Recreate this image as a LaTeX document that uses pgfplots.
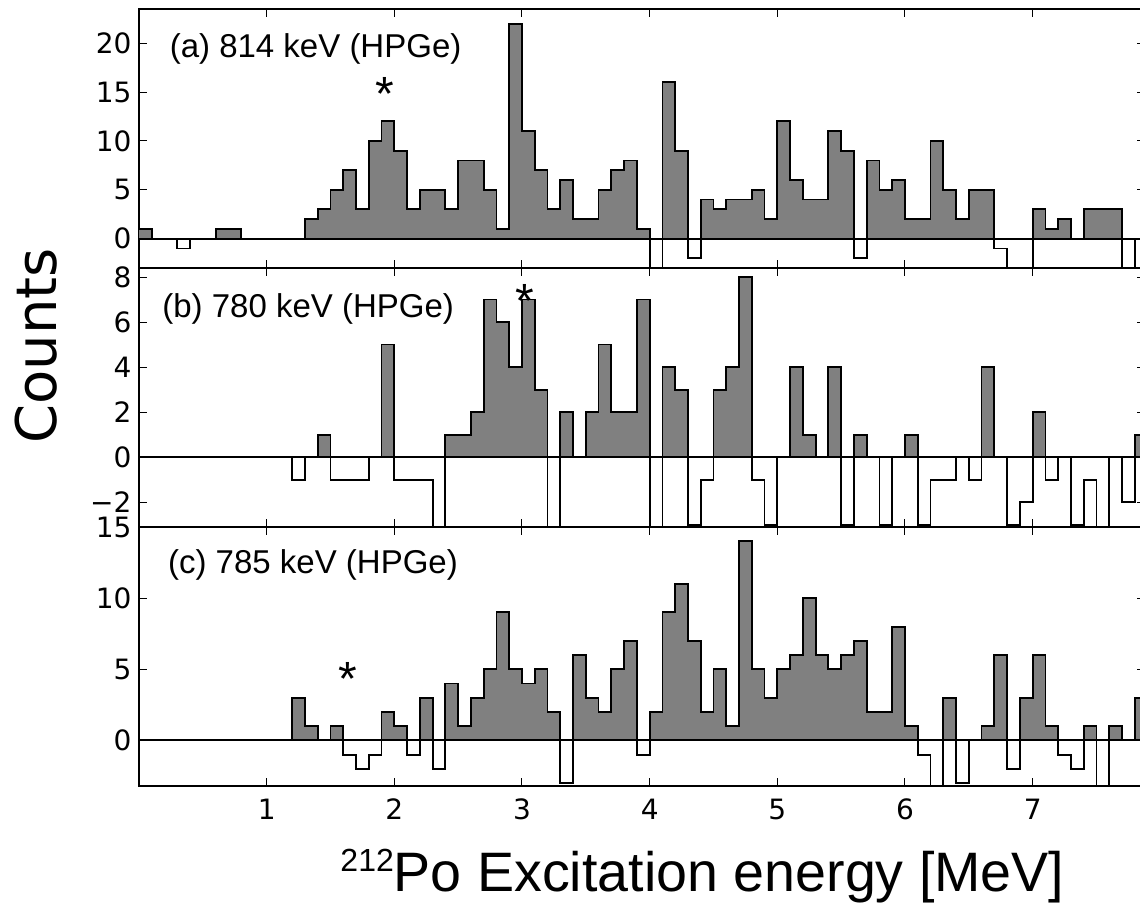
\documentclass[border=0pt]{standalone}
\usepackage{pgfplots}
\pgfplotsset{compat=1.18}
\usepackage{pgfplotstable}
\usepackage{fontspec}
\setmainfont{Liberation Sans}
\newfontfamily\dejavu{DejaVu Sans}

\pgfplotstableread{
x a b c
0.0 1 0 0
0.1 0 0 0
0.2 0 0 0
0.3 -1 0 0
0.4 0 0 0
0.5 0 0 0
0.6 1 0 0
0.7 1 0 0
0.8 0 0 0
0.9 0 0 0
1.0 0 0 0
1.1 0 0 0
1.2 0 -1 3
1.3 2 0 1
1.4 3 1 0
1.5 5 -1 1
1.6 7 -1 -1
1.7 3 -1 -2
1.8 10 0 -1
1.9 12 5 2
2.0 9 -1 1
2.1 3 -1 -1
2.2 5 -1 3
2.3 5 -4 -2
2.4 3 1 4
2.5 8 1 1
2.6 8 2 3
2.7 5 7 5
2.8 1 6 9
2.9 22 4 5
3.0 11 7 4
3.1 7 3 5
3.2 3 -4 2
3.3 6 2 -3
3.4 2 0 6
3.5 2 2 3
3.6 5 5 2
3.7 7 2 5
3.8 8 2 7
3.9 1 7 -1
4.0 -4 -4 2
4.1 16 4 9
4.2 9 3 11
4.3 -2 -3 7
4.4 4 -1 2
4.5 3 3 5
4.6 4 4 1
4.7 4 8 14
4.8 5 -1 5
4.9 2 -3 3
5.0 12 0 5
5.1 6 4 6
5.2 4 1 10
5.3 4 0 6
5.4 11 4 5
5.5 9 -3 6
5.6 -2 1 7
5.7 8 0 2
5.8 5 -3 2
5.9 6 0 8
6.0 2 1 1
6.1 2 -3 -1
6.2 10 -1 -4
6.3 5 -1 3
6.4 2 0 -3
6.5 5 -1 0
6.6 5 4 1
6.7 -1 0 6
6.8 -4 -3 -2
6.9 -4 -2 3
7.0 3 2 6
7.1 1 -1 1
7.2 2 0 -1
7.3 0 -3 -2
7.4 3 -1 1
7.5 3 -4 -4
7.6 3 0 1
7.7 -4 -2 0
7.8 0 1 3
7.9 0 1 3
}\hist

\pgfplotsset{
  panel/.style={
    scale only axis, width=503pt, height=129.5pt,
    anchor=south west,
    xmin=0, xmax=7.88,
    axis line style={line width=1pt},
    tick align=inside, tick pos=both,
    xticklabel pos=bottom, yticklabel pos=left,
    major tick length=4pt,
    every tick/.style={black, line width=0.5pt},
    xtick={1,2,3,4,5,6,7},
    tick label style={font=\dejavu\fontsize{14}{16}\selectfont},
    yticklabel style={inner sep=3.6pt},
    xticklabel style={inner sep=0pt, yshift=-6.3pt},
    /pgf/number format/assume math mode=true,
  },
}
\tikzset{
  annot/.style={anchor=base west, inner sep=0pt, font=\fontsize{16.5}{18}\selectfont},
  star/.style={anchor=north, inner sep=0pt, font=\fontsize{24}{24}\selectfont},
}

\begin{document}
\begin{tikzpicture}
\useasboundingbox (0,0) rectangle (570pt,453pt);
\clip (0,0) rectangle (570pt,453pt);

% panel (a)
\begin{axis}[panel, at={(69.5pt,319pt)}, ymin=-3, ymax=23.5, ytick={0,5,10,15,20}, xticklabels={}]
\addplot[const plot, fill=gray, draw=none] table[x=x, y expr={max(\thisrow{a},0)}] {\hist} \closedcycle;
\addplot[const plot, black, line width=0.9pt] table[x=x, y=a] {\hist};
\addplot[black, line width=1pt] coordinates {(0,0) (7.88,0)};
\node[annot] at (axis cs:0.238,18.49) {(a) 814 keV (HPGe)};
\node[star] at (axis cs:1.928,16.58) {*};
\end{axis}

% panel (b)
\begin{axis}[panel, at={(69.5pt,189.5pt)}, ymin=-3.1, ymax=8.4, ytick={-2,0,2,4,6,8}, yticklabels={−2,0,2,4,6,8}, xticklabels={}]
\addplot[const plot, fill=gray, draw=none] table[x=x, y expr={max(\thisrow{b},0)}] {\hist} \closedcycle;
\addplot[const plot, black, line width=0.9pt] table[x=x, y=b] {\hist};
\addplot[black, line width=1pt] coordinates {(0,0) (7.88,0)};
\node[annot] at (axis cs:0.18,6.2) {(b) 780 keV (HPGe)};
\node[star] at (axis cs:3.019,7.68) {*};
\end{axis}

% panel (c)
\begin{axis}[panel, at={(69.5pt,60pt)}, ymin=-3.2, ymax=15, ytick={0,5,10,15}]
\addplot[const plot, fill=gray, draw=none] table[x=x, y expr={max(\thisrow{c},0)}] {\hist} \closedcycle;
\addplot[const plot, black, line width=0.9pt] table[x=x, y=c] {\hist};
\addplot[black, line width=1pt] coordinates {(0,0) (7.88,0)};
\node[annot] at (axis cs:0.225,11.76) {(c) 785 keV (HPGe)};
\node[star] at (axis cs:1.638,5.51) {*};
\end{axis}

% axis titles
\node[anchor=base, inner sep=0pt, font=\fontsize{27.8}{30}\selectfont] at (351.25pt,7.15pt)
  {\raisebox{10pt}{\fontsize{16}{16}\selectfont 212}Po Excitation energy [MeV]};
\node[anchor=base, rotate=90, inner sep=0pt, font=\dejavu\fontsize{28}{30}\selectfont] at (28.4pt,280pt) {Counts};
\end{tikzpicture}
\end{document}
